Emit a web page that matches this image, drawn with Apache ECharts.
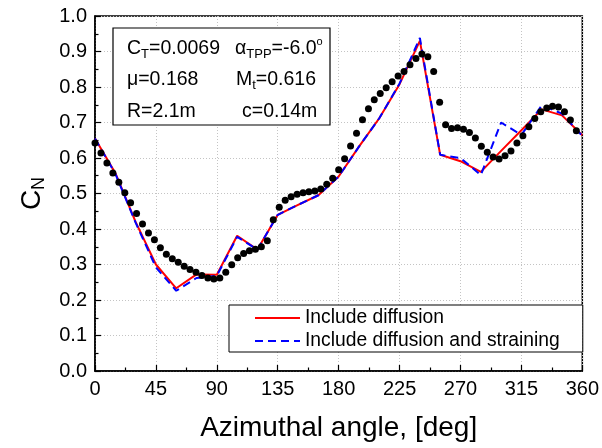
<!DOCTYPE html>
<html>
<head>
<meta charset="utf-8">
<script src="https://cdn.jsdelivr.net/npm/echarts@6/dist/echarts.min.js"></script>
<style>
html,body{margin:0;padding:0;background:#fff;}
#chart{width:602px;height:448px;}
</style>
</head>
<body>
<div id="chart"></div>
<script>
// Model angles (deg) and model C_N
const modelAngles = [0,15,30,45,60,75,90,105,120,135,150,165,180,195,210,225,240,255,270,285,300,315,330,345,360];
const diffusion = [0.655,0.558,0.42,0.30,0.233,0.272,0.271,0.381,0.342,0.44,0.468,0.495,0.548,0.632,0.712,0.808,0.930,0.609,0.591,0.561,0.62,0.678,0.737,0.72,0.664];
const diffusionStraining = [0.655,0.556,0.418,0.292,0.226,0.262,0.268,0.378,0.342,0.44,0.468,0.495,0.548,0.632,0.712,0.81,0.938,0.609,0.60,0.552,0.70,0.665,0.748,0.725,0.662];

// Measured (dots)
const expAngles = [0.0,4.4,8.8,13.2,17.6,22.0,26.3,30.7,35.1,39.5,43.9,48.3,52.7,57.1,61.5,65.9,70.2,74.6,79.0,83.4,87.8,92.2,96.6,101.0,105.4,109.8,114.1,118.5,122.9,127.3,131.7,136.1,140.5,144.9,149.3,153.7,158.0,162.4,166.8,171.2,175.6,180.0,184.4,188.8,193.2,197.6,202.0,206.3,210.7,215.1,219.5,223.9,228.3,232.7,237.1,241.5,245.9,250.2,254.6,259.0,263.4,267.8,272.2,276.6,281.0,285.4,289.8,294.1,298.5,302.9,307.3,311.7,316.1,320.5,324.9,329.3,333.7,338.0,342.4,346.8,351.2,355.6];
const expCN = [0.642,0.614,0.586,0.558,0.532,0.502,0.474,0.444,0.414,0.389,0.370,0.347,0.329,0.316,0.306,0.295,0.286,0.278,0.269,0.262,0.259,0.262,0.278,0.299,0.319,0.331,0.339,0.343,0.350,0.367,0.426,0.461,0.481,0.491,0.498,0.502,0.505,0.507,0.513,0.526,0.543,0.567,0.598,0.634,0.670,0.708,0.739,0.764,0.782,0.798,0.815,0.831,0.844,0.863,0.880,0.893,0.885,0.844,0.757,0.694,0.683,0.685,0.681,0.672,0.656,0.633,0.616,0.603,0.597,0.606,0.620,0.642,0.663,0.688,0.711,0.730,0.741,0.746,0.744,0.730,0.707,0.677];

const xTicks = [0,45,90,135,180,225,270,315,360];
const yTicks = [0.0,0.1,0.2,0.3,0.4,0.5,0.6,0.7,0.8,0.9,1.0];

const FONT = "'Liberation Sans', Arial, sans-serif";
const chart = echarts.init(document.getElementById('chart'), null, {renderer:'canvas'});

const gridStyle = {show:true, lineStyle:{color:'#c4c4c4', width:1, type:[1,2]}};
const main = {fontSize:19.5, fontFamily:FONT, fill:'#000', lineHeight:24};
const sub = {fontSize:13, fontFamily:FONT, fill:'#000', lineHeight:17, verticalAlign:'bottom'};
const sup = {fontSize:11, fontFamily:FONT, fill:'#000', lineHeight:16, verticalAlign:'top'};
function txt(x, y, text){
  return {type:'text', z:101, x:x, y:y, style:{text:text, rich:{m:main, s:sub, p:sup}, verticalAlign:'middle', align:'left'}};
}

chart.setOption({
  animation:false,
  backgroundColor:'#fff',
  grid:{left:95, right:18, top:16, bottom:72, show:true, borderColor:'#000', borderWidth:1.5, backgroundColor:'transparent'},
  xAxis:{
    type:'value', min:xTicks[0], max:xTicks[xTicks.length-1], interval:45,
    name:'Azimuthal angle, [deg]', nameLocation:'middle', nameGap:42,
    nameTextStyle:{fontSize:28, fontFamily:FONT, color:'#000', lineHeight:30},
    axisLine:{lineStyle:{color:'#000', width:1.5}},
    axisTick:{inside:true, length:6, lineStyle:{color:'#000', width:1.2}},
    minorTick:{show:true, splitNumber:2, length:3.5, lineStyle:{color:'#000', width:1.2}},
    axisLabel:{fontSize:20, fontFamily:FONT, color:'#000', margin:8},
    splitLine:gridStyle
  },
  yAxis:{
    type:'value', min:yTicks[0], max:yTicks[yTicks.length-1], interval:0.1,
    name:'{c|C}{n|N}', nameLocation:'middle', nameGap:46,
    nameTextStyle:{rich:{c:{fontSize:28, fontFamily:FONT, color:'#000', lineHeight:32}, n:{fontSize:18, fontFamily:FONT, color:'#000', lineHeight:22, verticalAlign:'bottom'}}},
    axisLine:{lineStyle:{color:'#000', width:1.5}},
    axisTick:{inside:true, length:6, lineStyle:{color:'#000', width:1.2}},
    minorTick:{show:true, splitNumber:2, length:3.5, lineStyle:{color:'#000', width:1.2}},
    axisLabel:{fontSize:20, fontFamily:FONT, color:'#000', margin:8, formatter:v=>v.toFixed(1)},
    splitLine:gridStyle
  },
  legend:{
    data:['Include diffusion','Include diffusion and straining'],
    orient:'vertical', left:229, top:305,
    itemWidth:45, itemHeight:14, itemGap:3,
    padding:[3,23,1,25],
    backgroundColor:'#fff', borderColor:'#000', borderWidth:1,
    itemStyle:{opacity:0},
    textStyle:{fontSize:19.3, fontFamily:FONT, color:'#000', lineHeight:20},
    z:100
  },
  graphic:[
    {type:'rect', z:100, shape:{x:113, y:28, width:217, height:97}, style:{fill:'#fff', stroke:'#000', lineWidth:1.2}},
    txt(127, 48.5, '{m|C}{s|T}{m|=0.0069}'),
    txt(235, 48.5, '{m|α}{s|TPP}{m|=-6.0}{p|o}'),
    txt(127, 80, '{m|μ=0.168}'),
    txt(236, 80, '{m|M}{s|t}{m|=0.616}'),
    txt(127, 111.5, '{m|R=2.1m}'),
    txt(242, 111.5, '{m|c=0.14m}')
  ],
  series:[
    {name:'Include diffusion', type:'line', symbol:'none', z:2,
     data:modelAngles.map((a,i)=>[a, diffusion[i]]),
     lineStyle:{color:'#ff0000', width:2}, itemStyle:{color:'#ff0000'}},
    {name:'Include diffusion and straining', type:'line', symbol:'none', z:3,
     data:modelAngles.map((a,i)=>[a, diffusionStraining[i]]),
     lineStyle:{color:'#0000ff', width:2, type:[8,5]}, itemStyle:{color:'#0000ff'}},
    {name:'Measured', type:'scatter', symbol:'circle', symbolSize:7, z:4,
     data:expAngles.map((a,i)=>[a, expCN[i]]),
     itemStyle:{color:'#000', opacity:1}}
  ]
});
</script>
</body>
</html>
